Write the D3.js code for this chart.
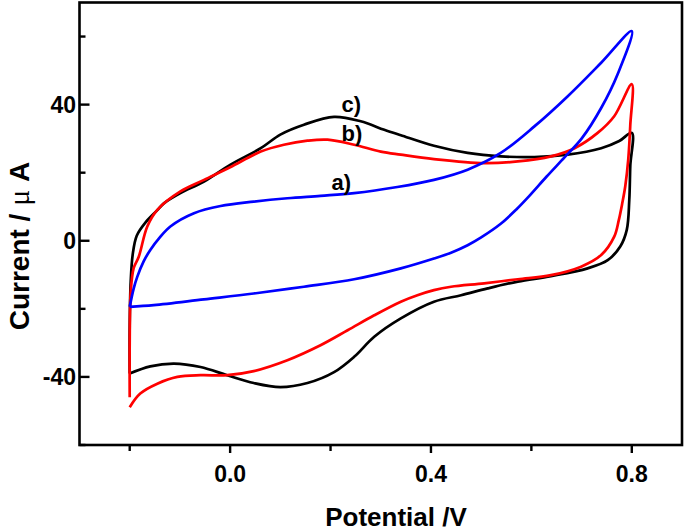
<!DOCTYPE html>
<html><head><meta charset="utf-8">
<script src="https://cdn.jsdelivr.net/npm/d3@7"></script>
<style>body{margin:0;background:#fff}svg{display:block}</style>
</head><body>
<svg id="c" width="685" height="531"></svg>
<script>
// ---- data (potential V, current µA) ----
const curveA = [ // a) blue
 [-0.2,-19.4],[-0.192,-14],[-0.185,-10.6],[-0.172,-6],[-0.159,-2.7],[-0.14,1],[-0.119,4.2],[-0.072,8.1],[-0.019,10.2],
 [0.047,11.5],[0.114,12.5],[0.18,13.2],[0.247,14],[0.333,15.8],[0.406,17.9],[0.473,20.9],[0.539,25.8],[0.606,33.6],
 [0.672,42.4],[0.739,52.3],[0.8,61.6],
 [0.772,49],[0.739,39],[0.70,30],[0.666,24.5],[0.63,18.8],[0.596,13.2],[0.57,9.2],[0.539,5],[0.5,1],[0.473,-1.3],
 [0.44,-3.5],[0.406,-5.2],[0.34,-8.1],[0.247,-11.3],[0.147,-13.5],[0.047,-15.5],[-0.052,-17.2],[-0.152,-18.9],[-0.2,-19.4]
];
const curveB = [ // b) red
 [-0.2,-46],[-0.2,-30],[-0.198,-15],[-0.192,-8],[-0.182,-4.7],[-0.165,4.2],[-0.145,9.1],[-0.099,14.5],[-0.052,17.9],
 [0.0,21.6],[0.061,26.2],[0.107,28.2],[0.154,29.4],[0.194,29.7],[0.247,28.2],[0.30,26.2],[0.34,25.3],[0.406,24],
 [0.506,22.8],[0.573,23.3],[0.639,24.8],[0.686,27.2],[0.732,31.7],[0.765,36.6],[0.8,46],
 [0.797,34],[0.793,24],[0.787,16],[0.781,11],[0.774,6],[0.765,1.2],[0.739,-4.2],[0.699,-7.6],[0.639,-10.1],
 [0.573,-11.3],[0.506,-12.5],[0.44,-13.5],[0.406,-14.5],[0.373,-16],[0.34,-17.9],[0.287,-21.9],[0.234,-26.3],
 [0.18,-30.7],[0.114,-35.1],[0.047,-38.3],[-0.006,-39.5],[-0.059,-39.5],[-0.105,-40],[-0.145,-42],[-0.179,-44.9],[-0.2,-48.9]
];
const curveC = [ // c) black
 [-0.2,-39],[-0.2,-25],[-0.198,-12],[-0.194,-4],[-0.186,1.5],[-0.168,5.5],[-0.145,9],[-0.132,11],[-0.099,14],
 [-0.052,17.4],[0.0,22.3],[0.061,27.2],[0.10,31.2],[0.147,34.1],[0.207,36.4],[0.26,35.1],[0.307,32.6],[0.34,31.0],
 [0.406,27.9],[0.473,25.8],[0.539,24.8],[0.606,24.6],[0.672,25.3],[0.739,27.2],[0.775,29.3],[0.8,31.7],
 [0.797,22],[0.795,12],[0.79,3.2],[0.777,-1.7],[0.752,-5.7],[0.712,-8.1],[0.639,-10.4],[0.573,-12],[0.513,-14],
 [0.46,-16],[0.406,-17.9],[0.34,-22.8],[0.287,-28.2],[0.247,-34.1],[0.207,-38.6],[0.154,-41.8],[0.10,-43],
 [0.047,-41.8],[-0.006,-39.5],[-0.059,-37.1],[-0.112,-36.1],[-0.159,-36.9],[-0.2,-39]
];
const xTicks = [-0.2, 0.0, 0.2, 0.4, 0.6, 0.8];
const xLabels = [0.0, 0.4, 0.8];
const yTicks = [-60, -40, -20, 0, 20, 40, 60];
const yLabels = [-40, 0, 40];
const curveNames = ["a)", "b)", "c)"];

// ---- drawing ----
const svg = d3.select("#c");
const L = 79.5, R = 682, T = 2.5, B = 445;
const x = d3.scaleLinear().domain([-0.3, 0.9]).range([L, R]);
const y = d3.scaleLinear().domain([-60, 70]).range([B, T]);

const line = d3.line().x(d => x(d[0])).y(d => y(d[1])).curve(d3.curveCatmullRom.alpha(0.5));
const series = [
  {data: curveC, color: "#000000", name: curveNames[2], lx: 0.222, ly: 37.8},
  {data: curveB, color: "#ff0000", name: curveNames[1], lx: 0.222, ly: 29.3},
  {data: curveA, color: "#0000ff", name: curveNames[0], lx: 0.202, ly: 14.9}
];
series.forEach(s => {
  svg.append("path").attr("d", line(s.data)).attr("fill", "none")
    .attr("stroke", s.color).attr("stroke-width", 2.7).attr("stroke-linejoin", "round");
});
series.forEach(s => {
  svg.append("text").attr("x", x(s.lx)).attr("y", y(s.ly))
    .attr("font-family", "Liberation Sans, Arial, sans-serif").attr("font-weight", "bold")
    .attr("font-size", 22).attr("fill", "#000").text(s.name);
});

// frame
svg.append("rect").attr("x", L).attr("y", T).attr("width", R - L).attr("height", B - T)
  .attr("fill", "none").attr("stroke", "#000").attr("stroke-width", 2.6);

// x ticks (outward)
xTicks.forEach(t => {
  const major = xLabels.some(v => Math.abs(v - t) < 1e-9);
  svg.append("line").attr("x1", x(t)).attr("x2", x(t)).attr("y1", B).attr("y2", B + (major ? 8 : 6))
    .attr("stroke", "#000").attr("stroke-width", 2.4);
});
const fmtX = d3.format(".1f");
xLabels.forEach(t => {
  svg.append("text").attr("x", x(t)).attr("y", 482).attr("text-anchor", "middle")
    .attr("font-family", "Liberation Sans, Arial, sans-serif").attr("font-weight", "bold")
    .attr("font-size", 23).text(fmtX(t));
});
// y ticks (inward)
yTicks.forEach(t => {
  const major = yLabels.includes(t);
  svg.append("line").attr("x1", L).attr("x2", L + (major ? 10 : 6)).attr("y1", y(t)).attr("y2", y(t))
    .attr("stroke", "#000").attr("stroke-width", 2.4);
});
yLabels.forEach(t => {
  svg.append("text").attr("x", 76).attr("y", y(t) + 8).attr("text-anchor", "end")
    .attr("font-family", "Liberation Sans, Arial, sans-serif").attr("font-weight", "bold")
    .attr("font-size", 23).text(t);
});

// axis titles
svg.append("text").attr("x", 396).attr("y", 526).attr("text-anchor", "middle")
  .attr("font-family", "Liberation Sans, Arial, sans-serif").attr("font-weight", "bold")
  .attr("font-size", 26).text("Potential /V");
const yt = svg.append("text").attr("transform", "translate(29,246) rotate(-90)").attr("text-anchor", "middle")
  .attr("font-family", "Liberation Sans, Arial, sans-serif").attr("font-weight", "bold").attr("font-size", 28);
yt.append("tspan").text("Current / ");
yt.append("tspan").attr("font-family", "Liberation Serif, Times New Roman, serif").attr("font-weight", "normal").attr("font-size", 30).text("μ");
yt.append("tspan").text(" A");
</script>
</body></html>
